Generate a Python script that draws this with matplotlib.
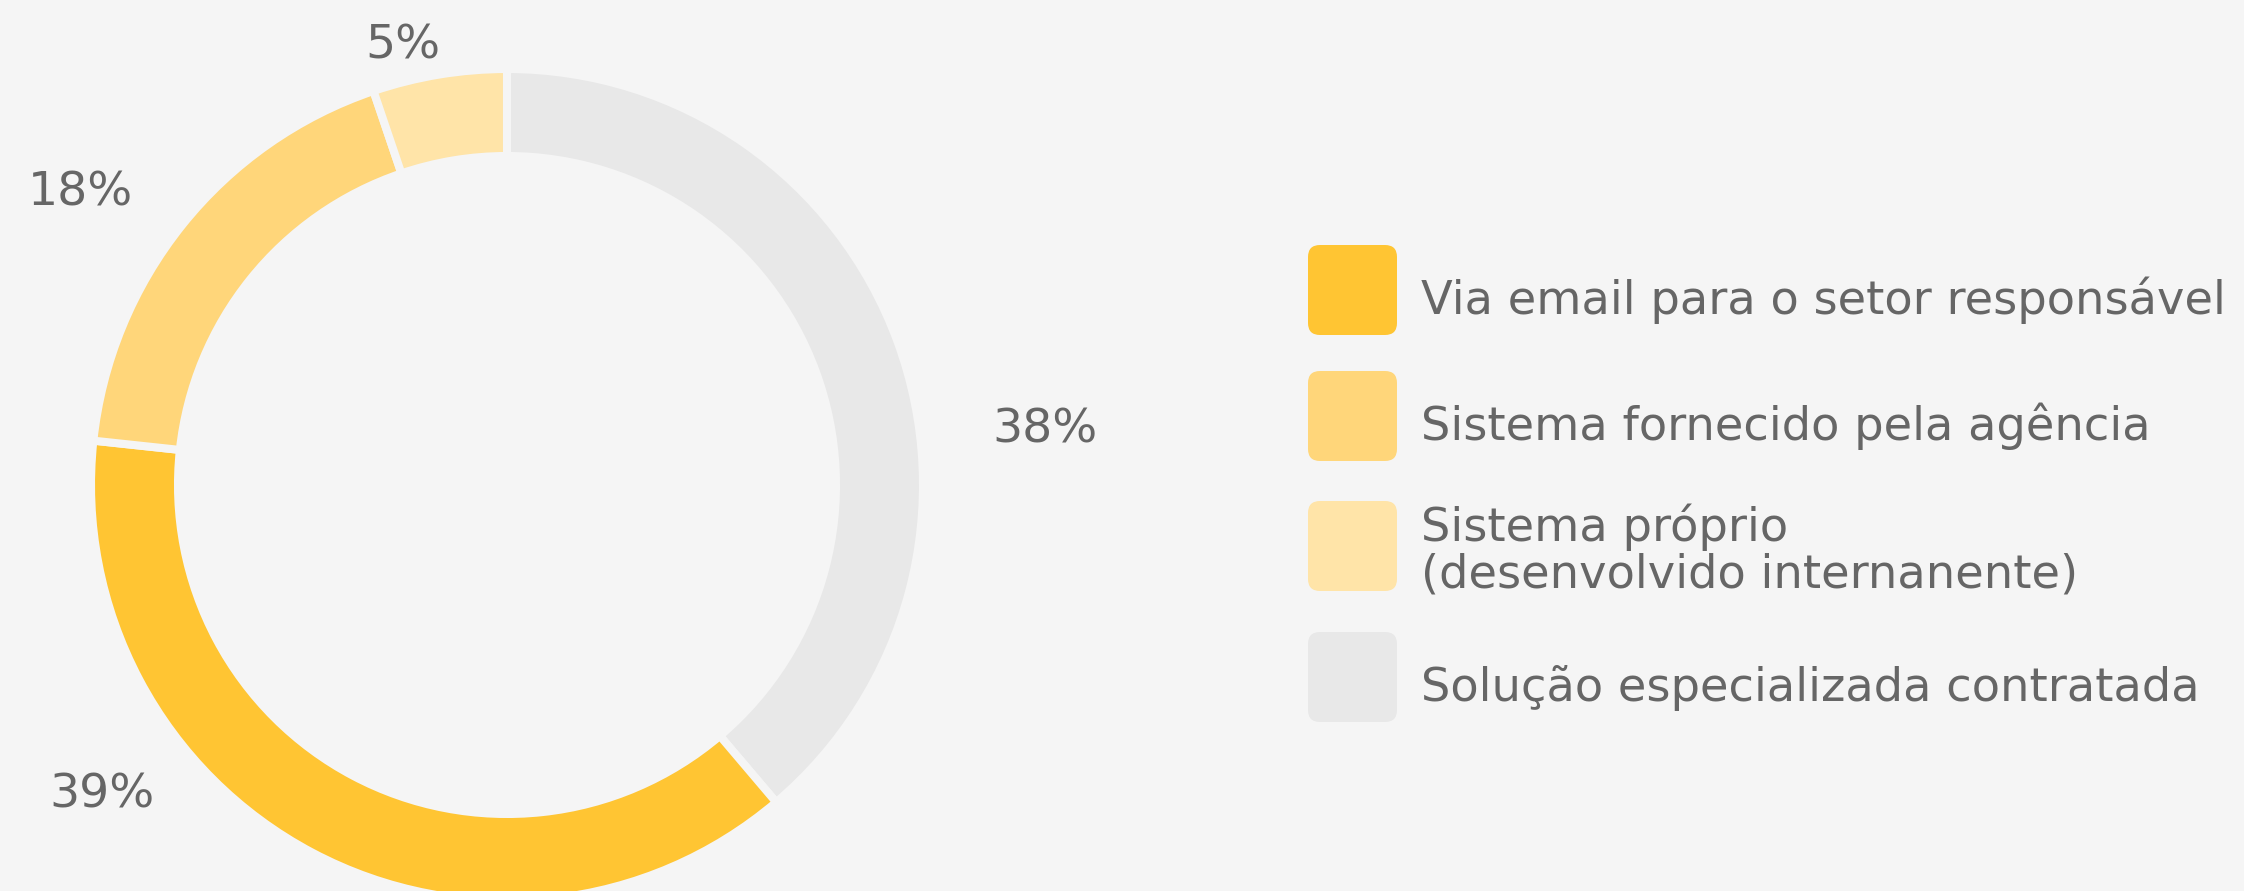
import numpy as np
import matplotlib
matplotlib.use('Agg')
import matplotlib.pyplot as plt
from matplotlib.patches import FancyBboxPatch

# dados
categorias = ['Via email para o setor responsável',
              'Sistema fornecido pela agência',
              'Sistema próprio\n(desenvolvido internanente)',
              'Solução especializada contratada']
rotulos = ['39%', '18%', '5%', '38%']
parcelas = [37.9, 18.1, 5.2, 38.8]
cores = ['#FFC533', '#FFD67A', '#FFE4A8', '#E8E8E8']

# ordem no anel (horário a partir do topo)
ordem_anel = [3, 0, 1, 2]

BG = '#F5F5F5'
TXT = '#666666'
FONT = ['DejaVu Sans']

W, H = 2244, 891
fig = plt.figure(figsize=(W / 100, H / 100), dpi=100)
fig.patch.set_facecolor(BG)
ax = fig.add_axes([0, 0, 1, 1])
ax.set_facecolor(BG)

centro = (507, 406)
raio = 416
vals = [parcelas[i] for i in ordem_anel]
cols = [cores[i] for i in ordem_anel]
wedges, _ = ax.pie(vals, colors=cols, startangle=90, counterclock=False,
                   center=centro, radius=raio, frame=True,
                   wedgeprops=dict(width=87, edgecolor=BG, linewidth=5.8))
ax.set_xlim(0, W)
ax.set_ylim(0, H)
ax.set_aspect('equal')
ax.axis('off')

# rótulos de percentagem
pos_rotulos = {3: (1045, 461), 0: (102, 96), 1: (80, 698), 2: (403, 845)}
for i, (x, y) in pos_rotulos.items():
    ax.text(x, y, rotulos[i], ha='center', va='center', fontsize=34,
            color=TXT, family=FONT)

# legenda
leg_y = [601, 475, 345, 214]
for i, y in enumerate(leg_y):
    sq = FancyBboxPatch((1308 + 12, y - 45 + 12), 89 - 24, 90 - 24,
                        boxstyle='round,pad=12', facecolor=cores[i],
                        edgecolor='none')
    ax.add_patch(sq)
    linhas = categorias[i].split('\n')
    if len(linhas) == 1:
        bases = [y - 24]
    else:
        bases = [y + 5, y - 41]
    for txt, b in zip(linhas, bases):
        ax.text(1421, b, txt, ha='left', va='baseline', fontsize=33.4,
                color=TXT, family=FONT)

fig.savefig('out.png', dpi=100, facecolor=BG)
